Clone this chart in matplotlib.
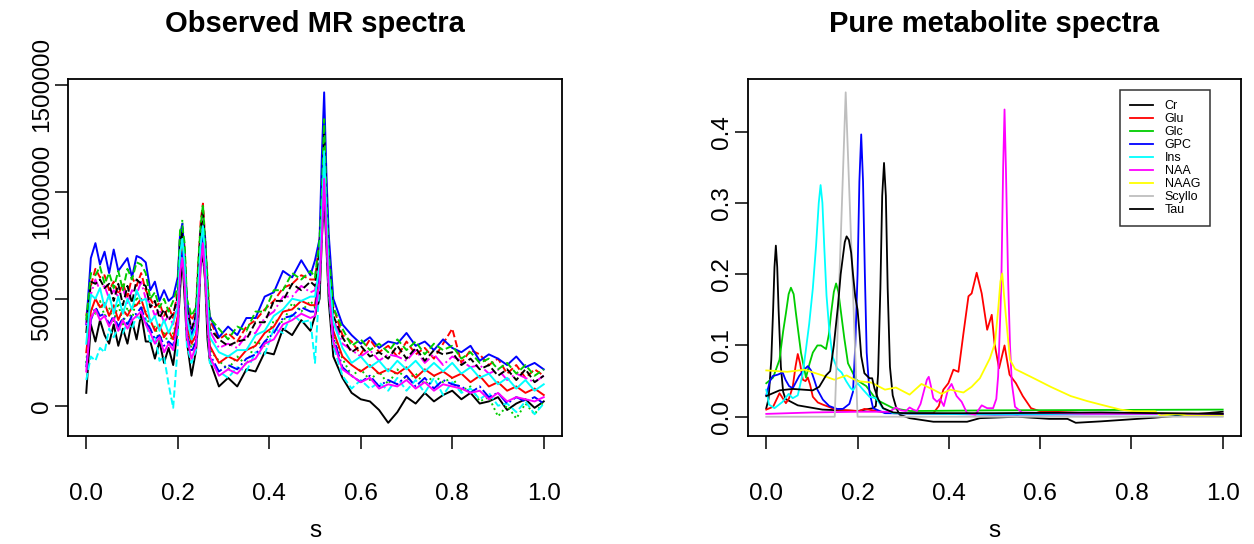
import matplotlib
matplotlib.use("Agg")
from matplotlib import pyplot as plt

plt.rcParams['font.family'] = ['Liberation Sans', 'DejaVu Sans']

# ---- left panel: observed spectra (values in thousands) ----
s_obs = [0.00, 0.01, 0.02, 0.03, 0.04, 0.05, 0.06, 0.07, 0.08, 0.09, 0.10,
         0.11, 0.12, 0.13, 0.14, 0.15, 0.16, 0.17, 0.18, 0.19, 0.20,
         0.205, 0.21, 0.215, 0.22, 0.23, 0.24, 0.245, 0.25, 0.255, 0.26, 0.265, 0.27,
         0.29, 0.31, 0.33, 0.35, 0.37, 0.39, 0.41, 0.43, 0.45, 0.47, 0.49,
         0.50, 0.51, 0.515, 0.52, 0.525, 0.53, 0.54,
         0.56, 0.58, 0.60, 0.62, 0.64, 0.66, 0.68, 0.70, 0.72, 0.74, 0.76, 0.78,
         0.80, 0.82, 0.84, 0.86, 0.88, 0.90, 0.92, 0.94, 0.96, 0.98, 1.00]

obs_1 = [60, 380, 300, 400, 330, 290, 380, 280, 360, 290, 400, 310, 430, 300, 300, 220, 300, 200, 270, 190, 360,
         540, 700, 500, 300, 140, 260, 400, 660, 700, 580, 310, 210,
         90, 130, 90, 170, 160, 250, 240, 360, 330, 400, 350,
         420, 500, 780, 980, 740, 490, 230,
         130, 60, 30, 20, -20, -80, -30, 40, 10, 60, 20, 50, 70, 30, 60, 10, 20, 40, -20, 10, 30, -10, 20]
obs_2 = [420, 560, 640, 600, 610, 540, 580, 520, 570, 510, 600, 560, 620, 540, 500, 460, 480, 420, 460, 410, 540,
         800, 830, 740, 480, 400, 440, 660, 860, 945, 780, 580, 400,
         310, 340, 300, 370, 400, 450, 490, 550, 570, 610, 590,
         590, 780, 980, 1320, 1000, 740, 460,
         330, 300, 240, 310, 250, 280, 230, 300, 240, 270, 220, 290, 360, 200, 260, 240, 190, 220, 150, 190, 130, 170, 140]
obs_3 = [200, 460, 430, 490, 420, 460, 390, 480, 380, 460, 400, 510, 460, 440, 350, 370, 300, 350, 280, 340, 410,
         700, 870, 620, 360, 270, 310, 520, 700, 820, 640, 460, 260,
         210, 170, 230, 190, 300, 280, 400, 390, 480, 440, 490,
         460, 620, 830, 1120, 800, 580, 330,
         220, 140, 170, 120, 160, 100, 170, 120, 150, 100, 140, 110, 130, 70, 90, 20, 40, -50, 0, -60, 10, -40, 20]
obs_4 = [380, 690, 760, 660, 720, 620, 730, 630, 660, 690, 600, 700, 690, 670, 540, 580, 490, 540, 490, 510, 600,
         800, 850, 680, 500, 310, 440, 600, 820, 880, 780, 520, 420,
         320, 370, 330, 410, 410, 510, 530, 630, 600, 680, 610,
         680, 780, 1170, 1465, 1080, 800, 500,
         380, 330, 290, 320, 270, 300, 290, 340, 280, 300, 260, 310, 270, 250, 280, 210, 240, 220, 190, 230, 180, 200, 170]
obs_5 = [120, 230, 210, 270, 250, 360, 320, 370, 340, 390, 360, 420, 400, 410, 290, 330, 210, 230, 100, -10, 280,
         640, 700, 580, 280, 200, 260, 460, 660, 780, 600, 400, 200,
         160, 130, 180, 160, 250, 240, 360, 340, 430, 390, 400,
         200, 580, 800, 1100, 820, 540, 280,
         140, 80, 120, 80, 110, 70, 130, 70, 120, 60, 130, 50, 110, 60, 80, 30, 60, 0, 10, -30, 20, -40, 10]
obs_6 = [380, 520, 590, 540, 560, 500, 540, 510, 550, 480, 540, 520, 580, 500, 480, 420, 450, 390, 420, 380, 500,
         740, 780, 700, 440, 350, 400, 620, 770, 880, 700, 530, 350,
         270, 290, 270, 330, 340, 410, 440, 510, 510, 560, 530,
         540, 700, 910, 1220, 910, 670, 410,
         290, 260, 230, 260, 210, 240, 230, 210, 260, 200, 240, 190, 230, 210, 180, 190, 150, 170, 120, 150, 130, 110, 140]
obs_7 = [340, 580, 570, 590, 550, 570, 490, 570, 470, 560, 480, 590, 570, 560, 460, 490, 410, 450, 400, 430, 510,
         760, 810, 720, 450, 360, 420, 640, 810, 920, 720, 540, 360,
         310, 280, 300, 310, 390, 390, 490, 490, 570, 540, 580,
         560, 720, 930, 1270, 940, 680, 420,
         320, 250, 280, 230, 250, 220, 280, 220, 270, 210, 260, 240, 250, 190, 220, 170, 190, 140, 170, 120, 170, 110, 140]
obs_8 = [250, 440, 500, 460, 480, 420, 470, 400, 450, 420, 460, 470, 500, 430, 400, 350, 380, 320, 350, 310, 420,
         690, 740, 640, 370, 290, 330, 550, 710, 820, 650, 470, 280,
         200, 230, 210, 260, 280, 340, 370, 440, 450, 490, 470,
         470, 640, 850, 1140, 840, 610, 350,
         230, 190, 160, 190, 150, 170, 150, 180, 130, 170, 140, 160, 130, 150, 110, 140, 90, 110, 70, 90, 60, 80, 50]
obs_9 = [400, 620, 610, 650, 570, 620, 550, 630, 540, 640, 590, 670, 660, 620, 500, 530, 460, 500, 440, 490, 560,
         820, 840, 760, 500, 420, 460, 680, 840, 940, 760, 600, 410,
         360, 310, 370, 350, 440, 440, 540, 540, 620, 590, 630,
         600, 780, 990, 1340, 980, 720, 460,
         360, 280, 310, 260, 290, 250, 310, 260, 300, 240, 290, 260, 280, 220, 250, 200, 220, 170, 200, 150, 190, 140, 170]
obs_10 = [180, 400, 460, 420, 430, 380, 420, 370, 410, 380, 420, 430, 460, 390, 360, 310, 330, 280, 300, 280, 390,
          660, 720, 610, 330, 250, 300, 510, 680, 800, 620, 440, 240,
          160, 190, 170, 220, 240, 300, 340, 410, 420, 460, 440,
          440, 610, 820, 1100, 800, 570, 320,
          180, 140, 110, 140, 90, 120, 100, 140, 90, 130, 80, 120, 100, 90, 60, 90, 40, 60, 10, 40, 20, 40, 10]
obs_11 = [290, 520, 500, 550, 460, 520, 430, 510, 430, 500, 450, 540, 490, 500, 390, 420, 350, 400, 340, 390, 460,
          710, 780, 660, 410, 310, 370, 570, 750, 840, 690, 490, 320,
          250, 230, 260, 260, 330, 350, 420, 450, 500, 490, 510,
          510, 660, 890, 1190, 890, 630, 390,
          270, 200, 230, 180, 210, 160, 210, 170, 210, 160, 200, 160, 200, 150, 180, 130, 150, 100, 130, 80, 120, 70, 100]
obs_12 = [160, 410, 450, 400, 420, 370, 410, 350, 400, 360, 400, 420, 440, 380, 340, 290, 320, 250, 290, 260, 380,
          620, 690, 570, 320, 220, 280, 480, 660, 760, 600, 400, 230,
          140, 170, 150, 200, 220, 290, 310, 380, 400, 430, 410,
          420, 580, 790, 1060, 790, 550, 300,
          170, 140, 110, 130, 80, 100, 90, 120, 80, 110, 70, 100, 90, 80, 60, 70, 30, 60, 20, 40, 30, 20, 40]

observed = [obs_1, obs_2, obs_3, obs_4, obs_5, obs_6,
            obs_7, obs_8, obs_9, obs_10, obs_11, obs_12]
obs_colors = ['black', 'red', '#00CD00', 'blue', 'cyan', 'magenta'] * 2
obs_styles = ['-', '--', ':', '-', '--', '-.', '--', '-', '--', '-.', '-', '-']

# ---- right panel: pure metabolite spectra ----
metabolites = ['Cr', 'Glu', 'Glc', 'GPC', 'Ins', 'NAA', 'NAAG', 'Scyllo', 'Tau']
met_colors = ['black', 'red', '#00CD00', 'blue', 'cyan', 'magenta', 'yellow', '#BEBEBE', 'black']

cr_s = [0.0, 0.005, 0.011, 0.015, 0.018, 0.021, 0.024, 0.027, 0.032, 0.037, 0.042, 0.069, 0.123, 0.2,
        0.234, 0.24, 0.245, 0.25, 0.254, 0.258, 0.262, 0.266, 0.271, 0.277, 0.285, 0.292, 0.314, 0.366,
        0.44, 0.468, 0.55, 0.62, 0.66, 0.678, 0.733, 0.85, 1.0]
cr_v = [0.012, 0.025, 0.08, 0.15, 0.21, 0.24, 0.21, 0.15, 0.07, 0.035, 0.025, 0.016, 0.01, 0.008,
        0.012, 0.015, 0.06, 0.18, 0.31, 0.356, 0.31, 0.18, 0.07, 0.03, 0.012, 0.003, -0.002, -0.007,
        -0.007, -0.002, 0.0, -0.003, -0.003, -0.0085, -0.0065, -0.0014, 0.007]
glu_s = [0, 0.015, 0.029, 0.037, 0.043, 0.05, 0.058, 0.064, 0.069, 0.074, 0.08, 0.086, 0.091, 0.096,
         0.102, 0.113, 0.124, 0.153, 0.204, 0.215, 0.25, 0.28, 0.33, 0.366, 0.378, 0.388, 0.399, 0.41,
         0.421, 0.432, 0.443, 0.45, 0.461, 0.472, 0.484, 0.494, 0.5, 0.51, 0.522, 0.533, 0.547, 0.562,
         0.58, 0.598, 0.7, 1.0]
glu_v = [0.01, 0.014, 0.033, 0.025, 0.019, 0.026, 0.042, 0.07, 0.088, 0.075, 0.052, 0.05, 0.055, 0.045,
         0.028, 0.02, 0.017, 0.01, 0.008, 0.011, 0.007, 0.005, 0.005, 0.005, 0.015, 0.038, 0.047, 0.066,
         0.063, 0.117, 0.169, 0.173, 0.202, 0.173, 0.122, 0.143, 0.103, 0.068, 0.1, 0.059, 0.047, 0.029,
         0.012, 0.008, 0.005, 0.004]
glc_s = [0, 0.015, 0.029, 0.037, 0.043, 0.049, 0.054, 0.06, 0.065, 0.071, 0.076, 0.087, 0.095, 0.102,
         0.112, 0.12, 0.131, 0.137, 0.142, 0.148, 0.153, 0.158, 0.164, 0.171, 0.179, 0.197, 0.219, 0.241,
         0.278, 0.315, 0.5, 1.0]
glc_v = [0.047, 0.055, 0.08, 0.12, 0.145, 0.172, 0.181, 0.172, 0.145, 0.115, 0.09, 0.055, 0.075, 0.09,
         0.1, 0.1, 0.095, 0.115, 0.145, 0.175, 0.187, 0.175, 0.145, 0.11, 0.075, 0.052, 0.043, 0.024,
         0.012, 0.008, 0.009, 0.010]
gpc_s = [0, 0.008, 0.014, 0.025, 0.036, 0.042, 0.05, 0.058, 0.072, 0.083, 0.091, 0.098, 0.105, 0.112,
         0.124, 0.138, 0.155, 0.168, 0.182, 0.19, 0.195, 0.2, 0.204, 0.208, 0.212, 0.216, 0.22, 0.226,
         0.234, 0.26, 0.5, 1.0]
gpc_v = [0.03, 0.05, 0.057, 0.059, 0.062, 0.052, 0.043, 0.04, 0.057, 0.066, 0.071, 0.065, 0.052, 0.038,
         0.024, 0.015, 0.011, 0.011, 0.018, 0.035, 0.1, 0.2, 0.33, 0.396, 0.33, 0.2, 0.09, 0.035,
         0.012, 0.005, 0.003, 0.004]
ins_s = [0, 0.006, 0.018, 0.036, 0.049, 0.058, 0.069, 0.08, 0.087, 0.094, 0.102, 0.109, 0.115, 0.119,
         0.123, 0.127, 0.132, 0.138, 0.145, 0.155, 0.165, 0.175, 0.185, 0.19, 0.2, 0.212, 0.226, 0.241,
         0.255, 0.278, 0.4, 0.6, 1.0]
ins_v = [0.038, 0.017, 0.012, 0.021, 0.032, 0.026, 0.03, 0.061, 0.095, 0.13, 0.18, 0.239, 0.3, 0.325,
         0.3, 0.239, 0.17, 0.122, 0.085, 0.068, 0.062, 0.05, 0.04, 0.037, 0.047, 0.038, 0.028, 0.026,
         0.012, 0.005, 0.004, 0.004, 0.003]
naa_s = [0, 0.1, 0.2, 0.27, 0.284, 0.295, 0.306, 0.314, 0.322, 0.33, 0.338, 0.347, 0.352, 0.356, 0.36,
         0.366, 0.374, 0.381, 0.389, 0.398, 0.406, 0.417, 0.428, 0.44, 0.458, 0.472, 0.484, 0.497, 0.504,
         0.508, 0.512, 0.515, 0.519, 0.522, 0.525, 0.53, 0.534, 0.538, 0.545, 0.56, 0.7, 1.0]
naa_v = [0.004, 0.006, 0.007, 0.007, 0.013, 0.009, 0.008, 0.013, 0.01, 0.008, 0.018, 0.04, 0.052, 0.056,
         0.045, 0.026, 0.021, 0.025, 0.015, 0.038, 0.046, 0.029, 0.021, 0.005, 0.003, 0.016, 0.012, 0.012,
         0.025, 0.057, 0.13, 0.188, 0.35, 0.431, 0.35, 0.188, 0.1, 0.047, 0.014, 0.006, 0.004, 0.004]
naag_s = [0, 0.046, 0.084, 0.123, 0.149, 0.176, 0.199, 0.23, 0.26, 0.284, 0.314, 0.34, 0.366, 0.384,
          0.403, 0.432, 0.45, 0.468, 0.49, 0.501, 0.508, 0.513, 0.517, 0.521, 0.525, 0.534, 0.545, 0.586,
          0.623, 0.667, 0.703, 0.733, 0.776, 0.805, 0.852, 0.864, 0.9, 0.922, 1.0]
naag_v = [0.065, 0.063, 0.066, 0.058, 0.052, 0.058, 0.05, 0.048, 0.038, 0.041, 0.031, 0.046, 0.038, 0.032,
          0.038, 0.034, 0.042, 0.054, 0.082, 0.103, 0.15, 0.19, 0.201, 0.17, 0.141, 0.08, 0.067, 0.054,
          0.042, 0.029, 0.022, 0.017, 0.010, 0.0076, 0.0076, 0.0016, 0.004, 0.0016, 0.001]
scyllo_s = [0.0, 0.15, 0.174, 0.2, 1.0]
scyllo_v = [0.0, 0.0, 0.455, 0.0, 0.0]
tau_s = [0, 0.029, 0.058, 0.102, 0.116, 0.131, 0.14, 0.148, 0.157, 0.163, 0.168, 0.172, 0.176, 0.181,
         0.186, 0.19, 0.195, 0.2, 0.204, 0.208, 0.215, 0.226, 0.232, 0.237, 0.245, 0.256, 0.278, 0.3,
         0.5, 0.733, 1.0]
tau_v = [0.029, 0.037, 0.039, 0.037, 0.042, 0.058, 0.064, 0.1, 0.155, 0.2, 0.225, 0.245, 0.253, 0.248,
         0.23, 0.2, 0.168, 0.15, 0.12, 0.085, 0.061, 0.054, 0.054, 0.04, 0.025, 0.012, 0.006, 0.005,
         0.005, 0.006, 0.004]

met_s = [cr_s, glu_s, glc_s, gpc_s, ins_s, naa_s, naag_s, scyllo_s, tau_s]
met_v = [cr_v, glu_v, glc_v, gpc_v, ins_v, naa_v, naag_v, scyllo_v, tau_v]

TICK_FS = 17.5


def r_limits(vals):
    lo, hi = min(vals), max(vals)
    d = (hi - lo) * 0.04
    return lo - d, hi + d


def style_axes(ax):
    for sp in ax.spines.values():
        sp.set_linewidth(1.3)
    ax.tick_params(direction='out', length=9.5, width=1.1, labelsize=TICK_FS)
    ax.tick_params(axis='x', pad=24)
    ax.tick_params(axis='y', pad=1.5)
    ax.set_xlim(-0.04, 1.04)
    ax.set_xticks([0.0, 0.2, 0.4, 0.6, 0.8, 1.0])
    ax.set_xticklabels(['0.0', '0.2', '0.4', '0.6', '0.8', '1.0'])
    ax.set_xlabel('s', fontsize=TICK_FS, labelpad=11)


fig = plt.figure(figsize=(12.54, 5.44), dpi=100)
ax1 = fig.add_axes([0.0542, 0.1985, 0.394, 0.656])
ax2 = fig.add_axes([0.5965, 0.1985, 0.3931, 0.656])

all_obs = []
for vals, col, ls in zip(observed, obs_colors, obs_styles):
    yv = [v * 1000 for v in vals]
    all_obs += yv
    ax1.plot(s_obs, yv, color=col, linestyle=ls, linewidth=1.4)
style_axes(ax1)
ax1.set_ylim(*r_limits(all_obs))
ax1.set_yticks([0, 500000, 1000000, 1500000])
ax1.set_yticklabels(['0', '500000', '1000000', '1500000'], rotation=90, va='center')
ax1.set_title('Observed MR spectra', fontsize=21, fontweight='bold', pad=34)

all_met = []
for name, sx, sv, col in zip(metabolites, met_s, met_v, met_colors):
    all_met += sv
    ax2.plot(sx, sv, color=col, linewidth=1.3, label=name)
style_axes(ax2)
ax2.set_ylim(*r_limits(all_met))
ax2.set_yticks([0.0, 0.1, 0.2, 0.3, 0.4])
ax2.set_yticklabels(['0.0', '0.1', '0.2', '0.3', '0.4'], rotation=90, va='center')
ax2.set_title('Pure metabolite spectra', fontsize=21, fontweight='bold', pad=34)
leg = ax2.legend(loc='upper right', bbox_to_anchor=(0.937, 0.969), borderaxespad=0,
                 fontsize=9, frameon=True, fancybox=False, borderpad=0.8,
                 handlelength=1.9, handletextpad=0.9, labelspacing=0.08)
leg.get_frame().set_edgecolor('black')
leg.get_frame().set_linewidth(1.1)

fig.savefig('out.png', dpi=100)
